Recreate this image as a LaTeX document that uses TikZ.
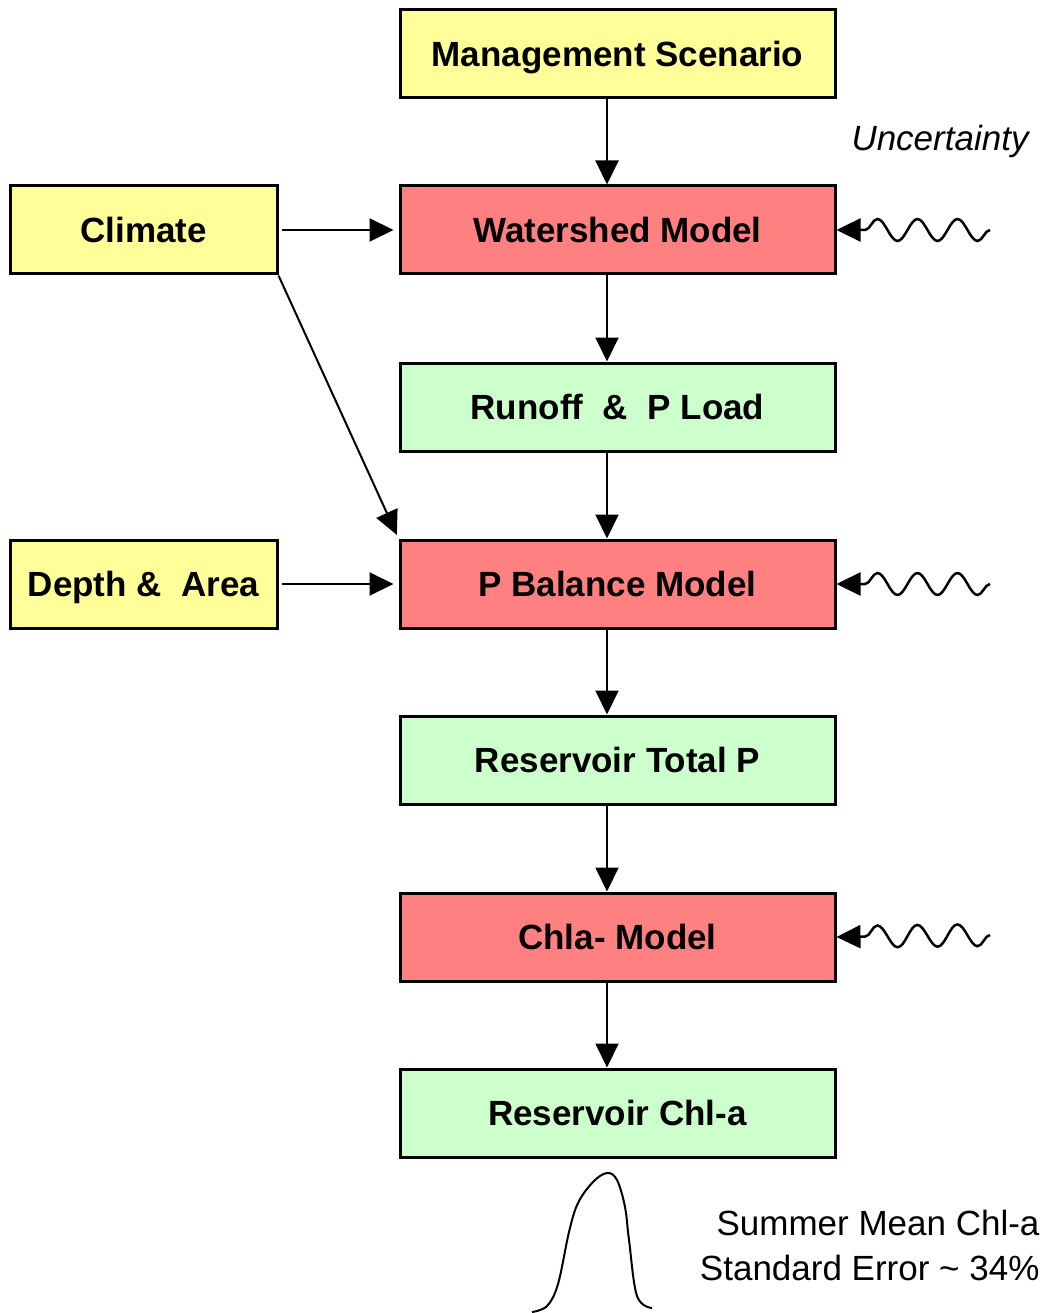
\documentclass[tikz,border=0pt]{standalone}
\usepackage{fontspec}
\setmainfont{Liberation Sans}
\usetikzlibrary{arrows.meta,decorations.pathmorphing}
\definecolor{boxyellow}{RGB}{255,255,153}
\definecolor{boxred}{RGB}{255,128,128}
\definecolor{boxgreen}{RGB}{204,255,204}
\begin{document}
\begin{tikzpicture}[x=1pt,y=-1pt,
        box/.style={draw,line width=3pt,minimum width=435pt,minimum height=88pt,inner sep=0pt,text height=25.5pt,text depth=0pt,font=\fontsize{35}{42}\selectfont\bfseries},
        side/.style={box,minimum width=267pt,fill=boxyellow},
        arr/.style={line width=2pt,-{Triangle[length=24pt,width=23pt]}},
        wave/.style={arr,line width=2.5pt,decorate,decoration={snake,amplitude=11pt,segment length=40pt,post length=22pt}},
        txt/.style={font=\fontsize{35}{45}\selectfont}]
        \useasboundingbox (0,0) rectangle (1045,1313);
        % main column
        \node[box,fill=boxyellow] (b1) at (617.5,54) {Management Scenario};
        \node[box,fill=boxred] (b2) at (617.5,230) {Watershed Model};
        \node[box,fill=boxgreen] (b3) at (617.5,407) {Runoff\ \ \&\ \ P Load};
        \node[box,fill=boxred] (b4) at (617.5,584) {P Balance Model};
        \node[box,fill=boxgreen] (b5) at (617.5,760) {Reservoir Total P};
        \node[box,fill=boxred] (b6) at (617.5,937) {Chla- Model};
        \node[box,fill=boxgreen] (b7) at (617.5,1113) {Reservoir Chl-a};
        % inputs
        \node[side] (c1) at (143.5,230) {Climate};
        \node[side] (c2) at (143.5,584) {Depth \&\ \ Area};
        \foreach \i/\j in {1/2,2/3,3/4,4/5,5/6,6/7}
          \draw[arr] ([xshift=-10.5pt]b\i.south) -- ([xshift=-10.5pt]b\j.north);
        \draw[arr,shorten <=3pt,shorten >=5pt] (c1) -- (b2);
        \draw[arr,shorten <=3pt,shorten >=5pt] (c2) -- (b4);
        \draw[arr,shorten >=4pt] (c1.south east) -- (b4.north west);
        % uncertainty
        \node[txt,font=\fontsize{35}{45}\selectfont\itshape] (u0) at (940,141) {Uncertainty};
        \coordinate (u1) at (990,230);
        \coordinate (u2) at (990,584);
        \coordinate (u3) at (990,935);
        \draw[wave] (u1) -- (b2.east);
        \draw[wave] (u2) -- (b4.east);
        \draw[wave] (u3) -- (b6.east);
        % distribution
        \draw[line width=2pt] plot[smooth,tension=0.6] coordinates {(532,1312) (547,1306) (558,1284) (569,1232) (578,1203) (593,1182) (607,1173) (617,1180) (625,1207) (629,1240) (637,1296) (652,1308)};
        \node[txt,anchor=east,align=right] (s1) at (1043,1245) {Summer Mean Chl-a\\Standard Error \textasciitilde{} 34\%};
\end{tikzpicture}
\end{document}
